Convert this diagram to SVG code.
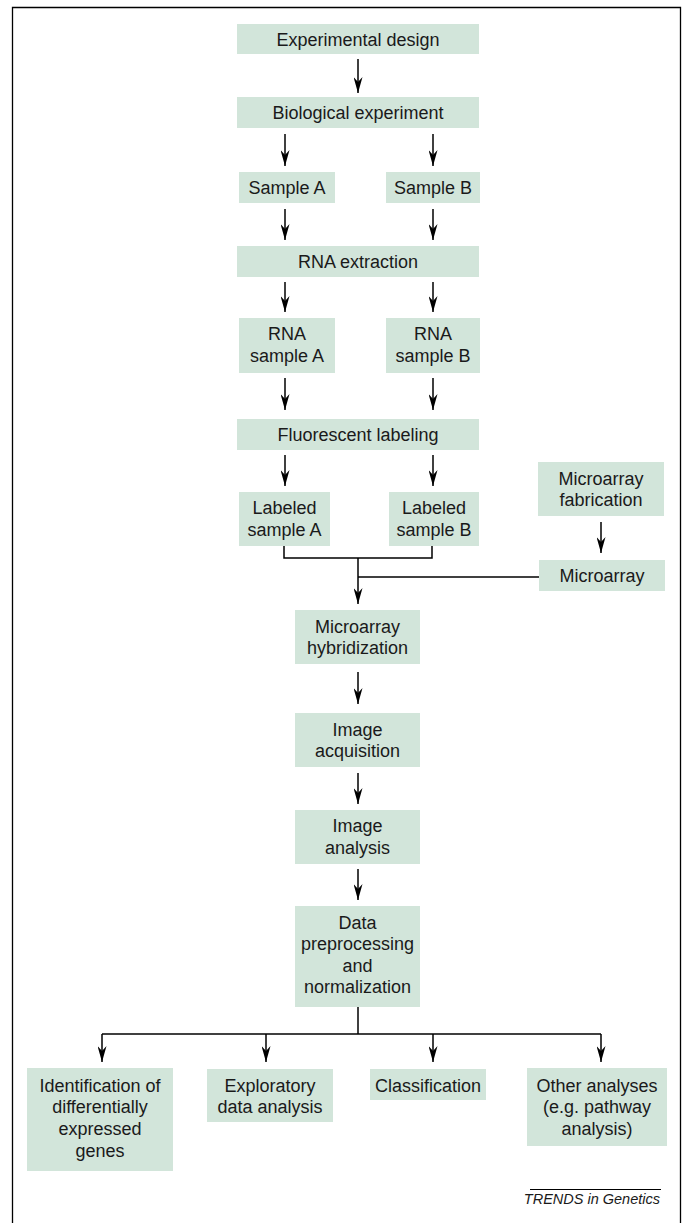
<svg xmlns="http://www.w3.org/2000/svg" width="683" height="1223" viewBox="0 0 683 1223">
<defs>
<marker id="ah" viewBox="0 0 16 9" refX="16" refY="4.5" markerWidth="16" markerHeight="9" markerUnits="userSpaceOnUse" orient="auto">
<path d="M0,0 L16,4.5 L0,9 L5,4.5 Z" fill="#000"/>
</marker>
<style>
.box{fill:#d2e5da;}
.t{font-family:"Liberation Sans",Arial,sans-serif;font-size:18px;fill:#1a1a1a;text-anchor:middle;}
.c{stroke:#000;stroke-width:1.5;fill:none;}
.a{stroke:#000;stroke-width:1.5;fill:none;}
</style>
</defs>
<rect x="0" y="0" width="683" height="1223" fill="#fff"/>
<path d="M12.5,1223 V7.5 H680.5 V1223" fill="none" stroke="#000" stroke-width="1.3"/>

<g id="connectors">
<line class="a" x1="358" y1="59" x2="358" y2="93" marker-end="url(#ah)"/>
<line class="a" x1="285" y1="134" x2="285" y2="166" marker-end="url(#ah)"/>
<line class="a" x1="433" y1="134" x2="433" y2="166" marker-end="url(#ah)"/>
<line class="a" x1="285" y1="209" x2="285" y2="240" marker-end="url(#ah)"/>
<line class="a" x1="433" y1="209" x2="433" y2="240" marker-end="url(#ah)"/>
<line class="a" x1="285" y1="282" x2="285" y2="312" marker-end="url(#ah)"/>
<line class="a" x1="433" y1="282" x2="433" y2="312" marker-end="url(#ah)"/>
<line class="a" x1="285" y1="378" x2="285" y2="410" marker-end="url(#ah)"/>
<line class="a" x1="433" y1="378" x2="433" y2="410" marker-end="url(#ah)"/>
<line class="a" x1="285" y1="455" x2="285" y2="486" marker-end="url(#ah)"/>
<line class="a" x1="433" y1="455" x2="433" y2="486" marker-end="url(#ah)"/>
<line class="a" x1="601" y1="522" x2="601" y2="553" marker-end="url(#ah)"/>
<polyline class="c" points="284,546 284,558 432,558 432,546"/>
<line class="a" x1="358" y1="558" x2="358" y2="604" marker-end="url(#ah)"/>
<line class="c" x1="358" y1="577" x2="539" y2="577"/>
<line class="a" x1="358" y1="672" x2="358" y2="704" marker-end="url(#ah)"/>
<line class="a" x1="358" y1="773" x2="358" y2="804" marker-end="url(#ah)"/>
<line class="a" x1="358" y1="869" x2="358" y2="900" marker-end="url(#ah)"/>
<line class="c" x1="358" y1="1007" x2="358" y2="1034"/>
<line class="c" x1="102" y1="1034" x2="601" y2="1034"/>
<line class="a" x1="102" y1="1034" x2="102" y2="1062" marker-end="url(#ah)"/>
<line class="a" x1="266" y1="1034" x2="266" y2="1062" marker-end="url(#ah)"/>
<line class="a" x1="433" y1="1034" x2="433" y2="1062" marker-end="url(#ah)"/>
<line class="a" x1="601" y1="1034" x2="601" y2="1062" marker-end="url(#ah)"/>
</g>

<g id="n-expdesign"><rect class="box" x="237" y="24" width="242" height="30"/><text class="t" x="358" y="46">Experimental design</text></g>
<g id="n-bioexp"><rect class="box" x="237" y="97" width="242" height="31"/><text class="t" x="358" y="119">Biological experiment</text></g>
<g id="n-sampleA"><rect class="box" x="239" y="172" width="96" height="31"/><text class="t" x="287" y="194">Sample A</text></g>
<g id="n-sampleB"><rect class="box" x="386" y="172" width="94" height="31"/><text class="t" x="433" y="194">Sample B</text></g>
<g id="n-rnaext"><rect class="box" x="237" y="246" width="242" height="31"/><text class="t" x="358" y="268">RNA extraction</text></g>
<g id="n-rnaA"><rect class="box" x="239" y="318" width="96" height="55"/><text class="t" x="287" y="340">RNA</text><text class="t" x="287" y="362">sample A</text></g>
<g id="n-rnaB"><rect class="box" x="386" y="318" width="94" height="55"/><text class="t" x="433" y="340">RNA</text><text class="t" x="433" y="362">sample B</text></g>
<g id="n-fluor"><rect class="box" x="237" y="419" width="242" height="31"/><text class="t" x="358" y="441">Fluorescent labeling</text></g>
<g id="n-labA"><rect class="box" x="239" y="492" width="91" height="54"/><text class="t" x="284.5" y="514">Labeled</text><text class="t" x="284.5" y="536">sample A</text></g>
<g id="n-labB"><rect class="box" x="389" y="492" width="90" height="54"/><text class="t" x="434" y="514">Labeled</text><text class="t" x="434" y="536">sample B</text></g>
<g id="n-mafab"><rect class="box" x="538" y="462" width="126" height="54"/><text class="t" x="601" y="485">Microarray</text><text class="t" x="601" y="506">fabrication</text></g>
<g id="n-ma"><rect class="box" x="539" y="560" width="126" height="31"/><text class="t" x="602" y="582">Microarray</text></g>
<g id="n-hyb"><rect class="box" x="295" y="610" width="125" height="54"/><text class="t" x="357.5" y="633">Microarray</text><text class="t" x="357.5" y="654">hybridization</text></g>
<g id="n-imgacq"><rect class="box" x="295" y="713" width="125" height="54"/><text class="t" x="357.5" y="736">Image</text><text class="t" x="357.5" y="757">acquisition</text></g>
<g id="n-imgan"><rect class="box" x="295" y="810" width="125" height="54"/><text class="t" x="357.5" y="832">Image</text><text class="t" x="357.5" y="854">analysis</text></g>
<g id="n-dataprep"><rect class="box" x="295" y="906" width="125" height="101"/><text class="t" x="357.5" y="929">Data</text><text class="t" x="357.5" y="950">preprocessing</text><text class="t" x="357.5" y="972">and</text><text class="t" x="357.5" y="993">normalization</text></g>
<g id="n-ident"><rect class="box" x="27" y="1068" width="146" height="103"/><text class="t" x="100" y="1092">Identification of</text><text class="t" x="100" y="1113">differentially</text><text class="t" x="100" y="1135">expressed</text><text class="t" x="100" y="1157">genes</text></g>
<g id="n-explor"><rect class="box" x="207" y="1069" width="126" height="53"/><text class="t" x="270" y="1092">Exploratory</text><text class="t" x="270" y="1113">data analysis</text></g>
<g id="n-class"><rect class="box" x="370" y="1069" width="116" height="31"/><text class="t" x="428" y="1092">Classification</text></g>
<g id="n-other"><rect class="box" x="527" y="1068" width="140" height="78"/><text class="t" x="597" y="1092">Other analyses</text><text class="t" x="597" y="1113">(e.g. pathway</text><text class="t" x="597" y="1135">analysis)</text></g>

<g id="credit">
<line x1="530" y1="1189.5" x2="661" y2="1189.5" stroke="#000" stroke-width="1"/>
<text x="660" y="1204" font-family="'Liberation Sans',Arial,sans-serif" font-size="14.5" font-style="italic" text-anchor="end" fill="#1a1a1a">TRENDS in Genetics</text>
</g>
</svg>
